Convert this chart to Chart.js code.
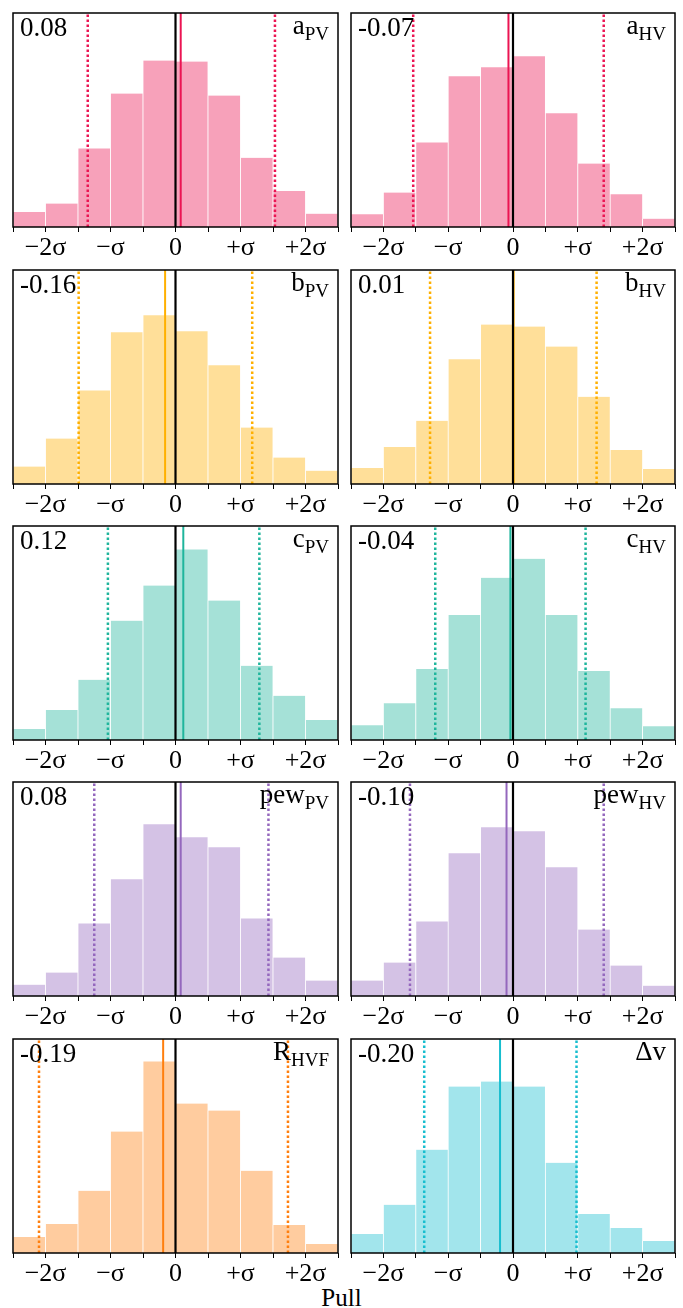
<!DOCTYPE html>
<html><head><meta charset="utf-8">
<script src="https://cdn.jsdelivr.net/npm/chart.js@4/dist/chart.umd.min.js"></script>
<style>
html,body{margin:0;padding:0;background:#fff;}
body{width:683px;height:1308px;position:relative;overflow:hidden;}
canvas{position:absolute;}
#pull{position:absolute;left:0;width:683px;text-align:center;top:1285px;font:25px/25px "Liberation Serif",serif;color:#000;}
</style></head><body>
<div id="pull">Pull</div>
<script>
// ---------- data ----------
const binCenters = [-2.25,-1.75,-1.25,-0.75,-0.25,0.25,0.75,1.25,1.75,2.25];
const majorTicks = [-2,-1,0,1,2];
const majorTickLabels = ['\u22122\u03c3','\u2212\u03c3','0','+\u03c3','+2\u03c3'];
const minorTicks = [-2.5,-1.5,-0.5,0.5,1.5,2.5];

const aPV   = [4.5, 7.0, 23.5, 39.9, 49.8, 49.5, 39.3, 20.7, 10.8, 4.0];
const aHV   = [3.8, 10.3, 25.3, 45.1, 47.8, 51.1, 34.0, 19.0, 9.8, 2.5];
const bPV   = [5.2, 13.6, 28.0, 45.4, 50.5, 45.7, 35.5, 16.9, 7.9, 4.0];
const bHV   = [4.8, 11.1, 18.9, 37.3, 47.7, 47.1, 41.1, 26.1, 10.2, 4.5];
const cPV   = [3.3, 9.0, 18.0, 35.7, 46.2, 57.0, 41.7, 22.2, 13.2, 6.0];
const cHV   = [4.4, 11.0, 21.2, 37.4, 48.5, 54.2, 37.4, 20.6, 9.5, 4.1];
const pewPV = [3.4, 7.0, 21.7, 34.9, 51.4, 47.5, 44.5, 23.2, 11.5, 4.6];
const pewHV = [4.6, 10.0, 22.3, 42.7, 50.5, 49.3, 38.5, 19.9, 9.1, 3.1];
const RHVF  = [4.8, 8.7, 18.6, 36.3, 57.3, 44.7, 42.6, 24.6, 8.4, 2.7];
const dv    = [5.7, 14.4, 30.9, 49.8, 51.3, 49.8, 27.0, 11.7, 7.5, 3.6];

const seriesList = [aPV, aHV, bPV, bHV, cPV, cHV, pewPV, pewHV, RHVF, dv];
const panelMain = ['a','a','b','b','c','c','pew','pew','R','\u0394v'];
const panelSub  = ['PV','HV','PV','HV','PV','HV','PV','HV','HVF',''];
const meanText  = ['0.08','-0.07','-0.16','0.01','0.12','-0.04','0.08','-0.10','-0.19','-0.20'];
const means     = [0.08, -0.07, -0.16, 0.01, 0.12, -0.04, 0.08, -0.10, -0.19, -0.20];
const lowerLine = [-1.35, -1.54, -1.49, -1.28, -1.04, -1.20, -1.25, -1.59, -2.10, -1.37];
const upperLine = [1.53, 1.40, 1.18, 1.29, 1.29, 1.12, 1.43, 1.40, 1.73, 0.98];
const yMax = 64;

const lineColors = ['#EB1452','#EB1452','#FFB000','#FFB000','#1FB59C','#1FB59C','#9467BD','#9467BD','#FF7F0E','#17BECF'];

// ---------- layout ----------
const colLeft = [13, 351], colRight = [338, 675];
const canvasLeft = [0, 341], canvasWidth = [345, 342];
const rowTop = [13, 270, 526, 782, 1039];
const panelH = 214, padT = 6, axisH = 44;

function hexA(hex, a){
  const n = parseInt(hex.slice(1),16);
  return `rgba(${(n>>16)&255},${(n>>8)&255},${n&255},${a})`;
}

const framePlugin = {
  id: 'frame',
  afterDatasetsDraw(chart, args, opts) {
    const {ctx, chartArea: a} = chart;
    ctx.save();
    ctx.strokeStyle = '#000';
    ctx.lineWidth = 1.5;
    ctx.strokeRect(a.left, a.top, a.right - a.left, a.bottom - a.top);
    ctx.fillStyle = '#000';
    ctx.textBaseline = 'alphabetic';
    ctx.textAlign = 'left';
    ctx.font = '27px "Liberation Serif"';
    ctx.fillText(opts.value, a.left + 7, a.top + 23);
    const mainFont = '27px "Liberation Serif"', subFont = '19px "Liberation Serif"';
    ctx.font = subFont;
    const sw = opts.sub ? ctx.measureText(opts.sub).width : 0;
    ctx.font = mainFont;
    const mw = ctx.measureText(opts.main).width;
    const xr = a.right - 9;
    ctx.fillText(opts.main, xr - sw - mw, a.top + 21);
    if (opts.sub) {
      ctx.font = subFont;
      ctx.fillText(opts.sub, xr - sw, a.top + 27);
    }
    ctx.restore();
  }
};

const allTicks = [...majorTicks, ...minorTicks].sort((p,q)=>p-q);

seriesList.forEach((vals, i) => {
  const row = Math.floor(i/2), col = i % 2;
  const cv = document.createElement('canvas');
  const W = canvasWidth[col], H = padT + panelH + axisH;
  cv.width = W; cv.height = H;
  cv.style.left = canvasLeft[col] + 'px';
  cv.style.top = (rowTop[row] - padT) + 'px';
  cv.style.width = W + 'px'; cv.style.height = H + 'px';
  document.body.appendChild(cv);
  const color = lineColors[i];
  const vline = (x, dash, c, w) => ({
    type: 'line',
    data: [{x: x, y: 0}, {x: x, y: yMax}],
    borderColor: c, borderWidth: w, borderDash: dash,
    pointRadius: 0, order: 1, borderCapStyle: 'butt'
  });
  new Chart(cv, {
    type: 'bar',
    data: {
      datasets: [
        {
          type: 'bar',
          data: binCenters.map((x, k) => ({x: x, y: vals[k]})),
          backgroundColor: hexA(color, 0.4),
          borderColor: '#fff',
          borderWidth: {left: 0.75, right: 0.75, top: 0, bottom: 0},
          borderSkipped: false,
          categoryPercentage: 1.0, barPercentage: 1.0,
          order: 10
        },
        vline(0, [], '#000', 2.2),
        vline(means[i], [], color, 2),
        vline(lowerLine[i], [2.5, 2.5], color, 2.5),
        vline(upperLine[i], [2.5, 2.5], color, 2.5)
      ]
    },
    options: {
      responsive: false, animation: false, devicePixelRatio: 1,
      layout: {padding: {left: colLeft[col] - canvasLeft[col], right: canvasLeft[col] + W - colRight[col], top: padT, bottom: 0}},
      plugins: {
        legend: {display: false}, tooltip: {enabled: false},
        frame: {value: meanText[i], main: panelMain[i], sub: panelSub[i]}
      },
      scales: {
        x: {
          type: 'linear', min: -2.5, max: 2.5, offset: false,
          afterBuildTicks: (ax) => { ax.ticks = allTicks.map(v => ({value: v})); },
          afterFit: (ax) => { ax.height = axisH; },
          border: {display: false},
          grid: {drawOnChartArea: false, drawTicks: true, tickLength: 5, tickColor: '#000', tickWidth: 1, offset: false},
          ticks: {
            autoSkip: false, maxRotation: 0, padding: 1, color: '#000',
            font: {family: '"Liberation Serif"', size: 26},
            callback: (v) => { const k = majorTicks.indexOf(v); return k >= 0 ? majorTickLabels[k] : ''; }
          }
        },
        y: {min: 0, max: yMax, display: false}
      }
    },
    plugins: [framePlugin]
  });
});
</script>
</body></html>
